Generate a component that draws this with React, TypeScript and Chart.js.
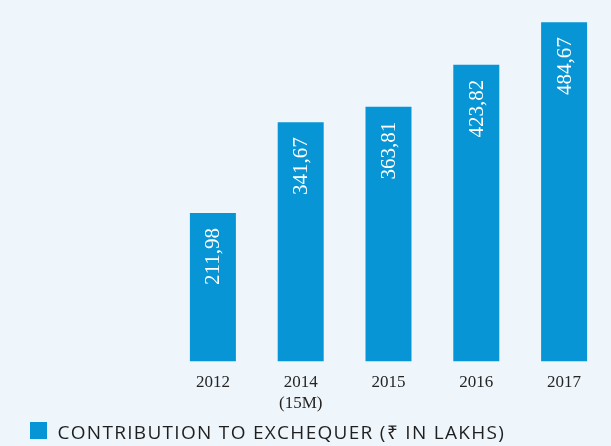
import React, { useEffect, useRef } from "react";
import { Chart, registerables } from "chart.js";

Chart.register(...registerables);

const categories: (string | string[])[] = ["2012", ["2014", "(15M)"], "2015", "2016", "2017"];
const values: number[] = [211.98, 341.67, 363.81, 423.82, 484.67];
const valueLabels: string[] = ["211,98", "341,67", "363,81", "423,82", "484,67"];
const seriesName = "CONTRIBUTION TO EXCHEQUER (₹ IN LAKHS)";

const BAR = "#0795d6";
const BG = "#eef6fc";

const valueLabelPlugin = {
  id: "valueLabels",
  afterDatasetsDraw(chart: any) {
    const ctx = chart.ctx;
    const meta = chart.getDatasetMeta(0);
    ctx.save();
    ctx.fillStyle = "#ffffff";
    ctx.font = "21px 'Liberation Serif', serif";
    ctx.textAlign = "right";
    ctx.textBaseline = "middle";
    meta.data.forEach((el: any, i: number) => {
      ctx.save();
      ctx.translate(el.x + 1, el.y + 15);
      ctx.rotate(-Math.PI / 2);
      ctx.fillText(valueLabels[i], 0, 0);
      ctx.restore();
    });
    ctx.restore();
  },
};

// Legend with letter spacing (not supported by the built-in legend)
const spacedLegendPlugin = {
  id: "spacedLegend",
  afterDraw(chart: any) {
    const ctx = chart.ctx;
    const ds = chart.data.datasets[0];
    ctx.save();
    ctx.fillStyle = ds.backgroundColor;
    ctx.fillRect(30, 422, 17, 17);
    ctx.fillStyle = "#1f1f1f";
    ctx.font = "19px 'Open Sans', sans-serif";
    (ctx as any).letterSpacing = "1.3px";
    ctx.textAlign = "left";
    ctx.textBaseline = "alphabetic";
    ctx.fillText(ds.label, 57.5, 438.5);
    ctx.restore();
  },
};

export default function App() {
  const ref = useRef<HTMLCanvasElement | null>(null);
  useEffect(() => {
    if (!ref.current) return;
    const chart = new Chart(ref.current, {
      type: "bar",
      data: {
        labels: categories,
        datasets: [
          {
            label: seriesName,
            data: values,
            backgroundColor: BAR,
            borderWidth: 0,
            barPercentage: 0.524,
            categoryPercentage: 1,
          },
        ],
      },
      plugins: [valueLabelPlugin, spacedLegendPlugin],
      options: {
        animation: false,
        responsive: false,
        maintainAspectRatio: false,
        layout: { padding: { left: 25, right: 3, top: 10, bottom: 29 } },
        plugins: {
          tooltip: { enabled: false },
          legend: { display: false },
        },
        scales: {
          x: {
            grid: { display: false, drawTicks: false },
            border: { display: false },
            ticks: {
              padding: 11,
              color: "#252525",
              font: { family: "'Liberation Serif', serif", size: 17, lineHeight: 1.2 },
              maxRotation: 0,
              autoSkip: false,
            },
            afterFit: (s: any) => {
              s.height = 55.5;
            },
          },
          y: {
            min: 0,
            max: 502,
            grid: { display: false, drawTicks: false },
            border: { display: false },
            ticks: { display: false },
            afterFit: (s: any) => {
              s.width = 144;
            },
          },
        },
      },
    });
    return () => chart.destroy();
  }, []);
  return (
    <div style={{ position: "fixed", left: 0, top: 0, width: 611, height: 446, background: BG }}>
      <canvas ref={ref} width={611} height={446} style={{ display: "block" }} />
    </div>
  );
}
